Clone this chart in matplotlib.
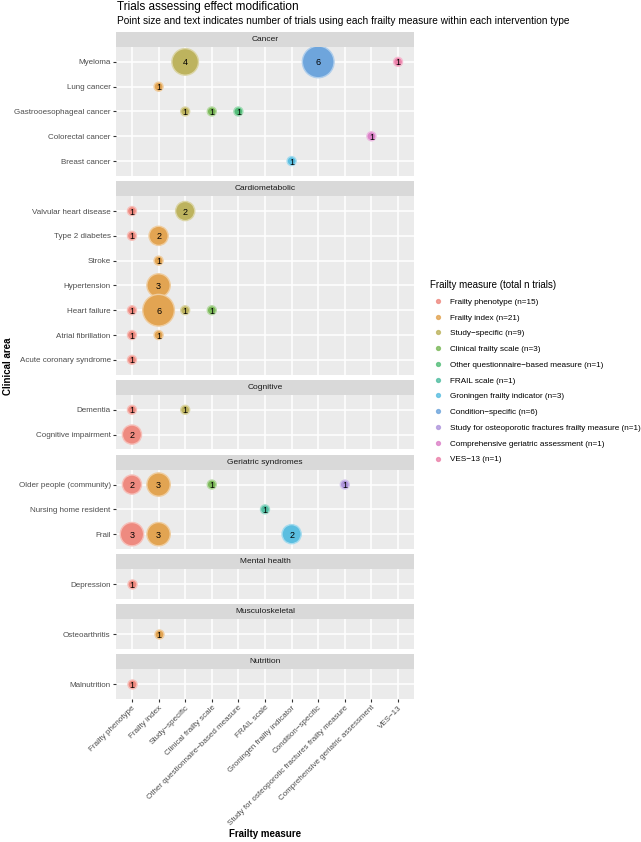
import numpy as np
import matplotlib.pyplot as plt
from matplotlib.lines import Line2D
from matplotlib.colors import to_rgb

plt.rcParams['font.family'] = ['Liberation Sans', 'DejaVu Sans']

# frailty measures (x axis) and totals for the legend
measures = ["Frailty phenotype", "Frailty index", "Study\u2212specific", "Clinical frailty scale",
            "Other questionnaire\u2212based measure", "FRAIL scale", "Groningen frailty indicator",
            "Condition\u2212specific", "Study for osteoporotic fractures frailty measure",
            "Comprehensive geriatric assessment", "VES\u221213"]
measure_totals = [15, 21, 9, 3, 1, 1, 3, 6, 1, 1, 1]
measure_colors = ["#EE8A80", "#E2A452", "#BDB35E", "#7CB95A", "#55BE7A", "#52BEA2",
                  "#5BBEE0", "#6EA5DC", "#AF96DC", "#DC82C8", "#EB82AA"]

# facets and their rows
areas = ["Cancer", "Cardiometabolic", "Cognitive", "Geriatric syndromes",
         "Mental health", "Musculoskeletal", "Nutrition"]
area_conditions = [
    ["Myeloma", "Lung cancer", "Gastrooesophageal cancer", "Colorectal cancer", "Breast cancer"],
    ["Valvular heart disease", "Type 2 diabetes", "Stroke", "Hypertension", "Heart failure",
     "Atrial fibrillation", "Acute coronary syndrome"],
    ["Dementia", "Cognitive impairment"],
    ["Older people (community)", "Nursing home resident", "Frail"],
    ["Depression"],
    ["Osteoarthritis"],
    ["Malnutrition"],
]

# number of trials per condition x measure (measure given as index into measures)
rec_condition = ["Myeloma", "Myeloma", "Myeloma", "Lung cancer",
                 "Gastrooesophageal cancer", "Gastrooesophageal cancer", "Gastrooesophageal cancer",
                 "Colorectal cancer", "Breast cancer",
                 "Valvular heart disease", "Valvular heart disease",
                 "Type 2 diabetes", "Type 2 diabetes", "Stroke", "Hypertension",
                 "Heart failure", "Heart failure", "Heart failure", "Heart failure",
                 "Atrial fibrillation", "Atrial fibrillation", "Acute coronary syndrome",
                 "Dementia", "Dementia", "Cognitive impairment",
                 "Older people (community)", "Older people (community)",
                 "Older people (community)", "Older people (community)",
                 "Nursing home resident", "Frail", "Frail", "Frail",
                 "Depression", "Osteoarthritis", "Malnutrition"]
rec_measure = [2, 7, 10, 1,
               2, 3, 4,
               9, 6,
               0, 2,
               0, 1, 1, 1,
               0, 1, 2, 3,
               0, 1, 0,
               0, 2, 0,
               0, 1, 3, 8,
               5, 0, 1, 6,
               0, 1, 0]
rec_count = [4, 6, 1, 1,
             1, 1, 1,
             1, 1,
             1, 2,
             1, 2, 1, 3,
             1, 6, 1, 1,
             1, 1, 1,
             1, 1, 2,
             2, 3, 1, 1,
             1, 3, 3, 2,
             1, 1, 1]

W, H = 641, 842
fig = plt.figure(figsize=(W / 100, H / 100), dpi=100)


def fig_box(x0, y0, w, h):
    return [x0 / W, 1 - (y0 + h) / H, w / W, h / H]


def lighter(c, f=0.45):
    r, g, b = to_rgb(c)
    return (r + (1 - r) * f, g + (1 - g) * f, b + (1 - b) * f)


def point_size(n):
    # area-type size scale, diameter in px from 9 (n=1) to ~32 (n=6)
    d = 9 + 22.7 * np.sqrt((n - 1) / 5)
    return (d * 0.72) ** 2


left_px, right_px = 116, 414
top_px = 32
strip_h = 15
gap = 5.2
unit = 24.8

y = top_px
for i, area in enumerate(areas):
    conds = area_conditions[i]
    n = len(conds)

    sax = fig.add_axes(fig_box(left_px, y, right_px - left_px, strip_h))
    sax.set_facecolor('#D9D9D9')
    sax.set_xticks([])
    sax.set_yticks([])
    for sp in sax.spines.values():
        sp.set_visible(False)
    sax.text(0.5, 0.5, area, ha='center', va='center', fontsize=6, color='#1A1A1A',
             transform=sax.transAxes)

    ph = (n - 1 + 1.2) * unit
    ax = fig.add_axes(fig_box(left_px, y + strip_h, right_px - left_px, ph))
    ax.set_facecolor('#EBEBEB')
    ax.set_xlim(-0.6, len(measures) - 0.4)
    ax.set_ylim(n - 0.4, -0.6)
    ax.set_xticks(range(len(measures)))
    ax.set_yticks(range(n))
    ax.set_yticklabels(conds)
    ax.grid(True, color='white', lw=1.1)
    ax.set_axisbelow(True)
    for sp in ax.spines.values():
        sp.set_visible(False)
    ax.tick_params(length=2.3, width=0.8, color='#333333', labelsize=5.8,
                   labelcolor='#4D4D4D', pad=1.5)

    idx = [k for k, c in enumerate(rec_condition) if c in conds]
    xs = [rec_measure[k] for k in idx]
    ys = [conds.index(rec_condition[k]) for k in idx]
    cnt = [rec_count[k] for k in idx]
    cols = [measure_colors[m] for m in xs]
    ax.scatter(xs, ys, s=[point_size(c) for c in cnt], c=cols,
               edgecolors=[lighter(c) for c in cols], linewidths=1.0, zorder=3)
    for xx, yy, c in zip(xs, ys, cnt):
        ax.text(xx, yy, str(c), ha='center', va='center_baseline', fontsize=6.5,
                color='black', zorder=4)

    if i == len(areas) - 1:
        ax.set_xticklabels(measures, rotation=45, ha='right', va='top',
                           rotation_mode='anchor')
    else:
        ax.tick_params(axis='x', labelbottom=False, length=0)

    y += strip_h + ph + gap

# titles
fig.text(117 / W, 1 - 7 / H, "Trials assessing effect modification", fontsize=8.5,
         va='center', ha='left')
fig.text(117 / W, 1 - 21 / H,
         "Point size and text indicates number of trials using each frailty measure within each intervention type",
         fontsize=7.25, va='center', ha='left')
fig.text(8 / W, 1 - 366 / H, "Clinical area", rotation=90, ha='center', va='center',
         fontsize=7, weight='bold')
fig.text(265 / W, 1 - 834 / H, "Frailty measure", ha='center', va='center',
         fontsize=7, weight='bold')

# legend
handles = [Line2D([], [], marker='o', ls='', color=c, markersize=2.8, alpha=0.8)
           for c in measure_colors]
labels = [f"{m} (n={t})" for m, t in zip(measures, measure_totals)]
fig.legend(handles, labels, title="Frailty measure (total n trials)",
           loc='upper left', bbox_to_anchor=(430 / W, 1 - 280 / H), frameon=False,
           fontsize=5.9, title_fontsize=7.0, labelspacing=0.98, handlelength=1.95,
           handletextpad=0.5, alignment='left', borderaxespad=0, borderpad=0)

fig.savefig('out.png', dpi=100)
